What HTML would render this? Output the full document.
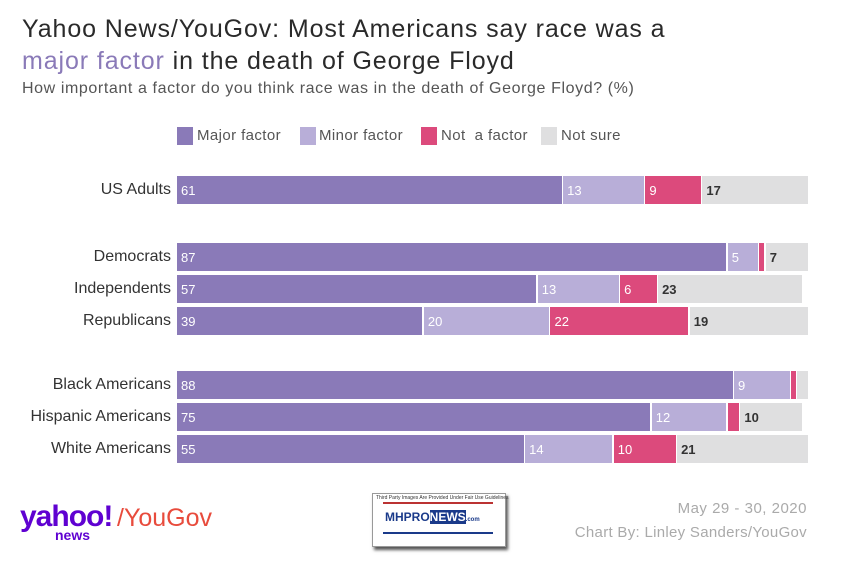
<!DOCTYPE html>
<html><head><meta charset="utf-8"><style>
body{margin:0;width:843px;height:572px;background:#fff;font-family:"Liberation Sans",sans-serif;position:relative;overflow:hidden}
.a{position:absolute;white-space:nowrap}
.s{position:absolute;height:28px;font-size:13px;line-height:30px;padding-left:4px;box-sizing:border-box;overflow:hidden}
.lab{position:absolute;right:672px;font-size:16px;color:#333;line-height:28px}
.lg{position:absolute;top:127px;width:16px;height:18px}
.lt{position:absolute;top:127px;font-size:15px;color:#555;letter-spacing:0.4px}
</style></head><body>
<div class="a" style="left:22px;top:13px;font-size:25px;color:#2a2a2a;line-height:32px;letter-spacing:0.9px">Yahoo News/YouGov: Most Americans say race was a<br><span style="color:#8a7ab8">major factor</span> in the death of George Floyd</div>
<div class="a" style="left:22px;top:80px;font-size:16px;color:#555;letter-spacing:0.6px">How important a factor do you think race was in the death of George Floyd? (%)</div>
<div class="lg" style="left:177px;background:#8a7ab8"></div><div class="lt" style="left:197px">Major factor</div>
<div class="lg" style="left:300px;background:#b8aed8"></div><div class="lt" style="left:319px">Minor factor</div>
<div class="lg" style="left:421px;background:#dc4a7c"></div><div class="lt" style="left:441px">Not &nbsp;a factor</div>
<div class="lg" style="left:541px;background:#dfdfe0"></div><div class="lt" style="left:561px">Not sure</div>
<div id="c"></div>
<div class="a" style="left:20px;top:500px;font-size:30px;font-weight:bold;color:#5f01d1;letter-spacing:-1px">yahoo!</div>
<div class="a" style="left:117px;top:504px;font-size:25px;color:#e84b3c">/YouGov</div>
<div class="a" style="left:55px;top:527px;font-size:14px;font-weight:bold;color:#5f01d1">news</div>
<div class="a" style="left:372px;top:493px;width:132px;height:52px;border:1px solid #999;box-shadow:2px 3px 3px #555;background:#fff">
<div style="position:absolute;left:3px;top:1px;font-size:5px;color:#333">Third Party Images Are Provided Under Fair Use Guidelines</div>
<div style="position:absolute;left:10px;top:8px;width:110px;height:2px;background:#b33"></div>
<div style="position:absolute;left:12px;top:16px;font-size:12px;font-weight:bold;color:#1a3a8a">MHPRO<span style="background:#1a3a8a;color:#fff">NEWS</span><span style="font-size:6px">.com</span></div>
<div style="position:absolute;left:10px;top:38px;width:110px;height:2px;background:#1a3a8a"></div>
</div>
<div class="a" style="right:36px;top:500px;font-size:15px;color:#aaa;text-align:right;letter-spacing:0.5px">May 29 - 30, 2020</div>
<div class="a" style="right:36px;top:524px;font-size:15px;color:#aaa;letter-spacing:0.3px">Chart By: Linley Sanders/YouGov</div>
<script>
var rows=[["US Adults",176,[61,13,9,17]],["Democrats",243,[87,5,1,7]],["Independents",275,[57,13,6,23]],["Republicans",307,[39,20,22,19]],["Black Americans",371,[88,9,1,2]],["Hispanic Americans",403,[75,12,2,10]],["White Americans",435,[55,14,10,21]]];
var col=["#8a7ab8","#b8aed8","#dc4a7c","#dfdfe0"],tc=["#fff","#fff","#fff","#333"];
var h="";rows.forEach(function(r){h+='<div class="lab" style="top:'+r[1]+'px">'+r[0]+'</div>';var x=177;r[2].forEach(function(v,i){var w=v*6.33;h+='<div class="s" style="left:'+x+'px;top:'+r[1]+'px;width:'+(w-1.5)+'px;background:'+col[i]+';color:'+tc[i]+(i==3?';font-weight:bold':'')+'">'+(v>=3?v:'')+'</div>';x+=w;});});
document.getElementById("c").innerHTML=h;
</script>
</body></html>
